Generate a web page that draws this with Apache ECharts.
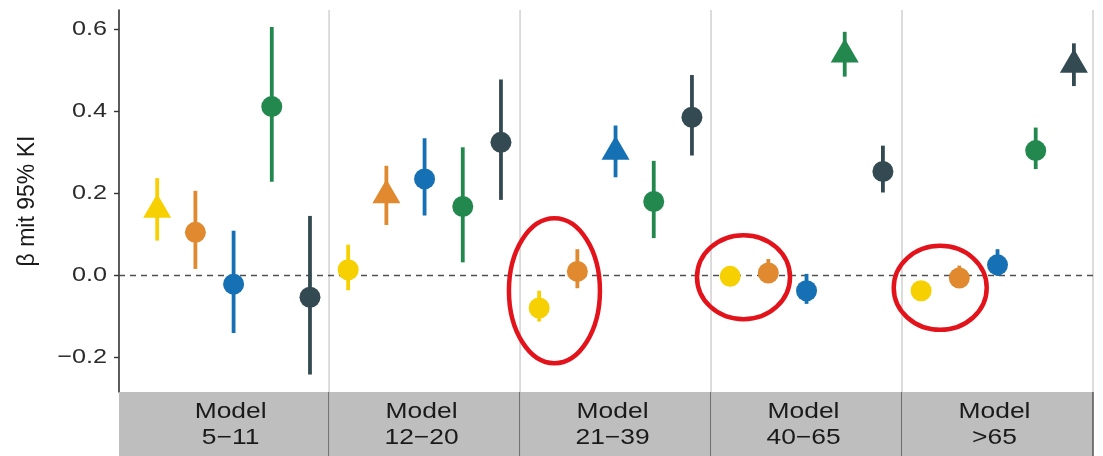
<!DOCTYPE html>
<html>
<head>
<meta charset="utf-8">
<script src="https://cdn.jsdelivr.net/npm/echarts@6/dist/echarts.min.js"></script>
<style>
  html, body { margin: 0; padding: 0; background: #ffffff; }
  #chart { width: 1103px; height: 456px; }
</style>
</head>
<body>
<div id="chart"></div>
<script>
// Facets (models by age group)
const panels = ['5−11', '12−20', '21−39', '40−65', '>65'];
// Predictor groups, one coloured series each
const groupNames = ['5−11', '12−20', '21−39', '40−65', '>65'];
const groupColors = ['#F6D000', '#E0892E', '#1570B4', '#22884D', '#344A52'];

// Estimates and 95% interval bounds, one value per facet
const est1 = [0.160, 0.014, -0.079, -0.002, -0.037];
const lo1  = [0.085, -0.036, -0.112, -0.012, -0.048];
const hi1  = [0.237, 0.075, -0.037, 0.008, -0.026];

const est2 = [0.105, 0.195, 0.010, 0.006, -0.006];
const lo2  = [0.016, 0.123, -0.031, -0.015, -0.030];
const hi2  = [0.206, 0.267, 0.064, 0.040, 0.024];

const est3 = [-0.021, 0.235, 0.301, -0.037, 0.026];
const lo3  = [-0.140, 0.146, 0.239, -0.069, -0.001];
const hi3  = [0.109, 0.334, 0.365, 0.004, 0.064];

const est4 = [0.411, 0.168, 0.180, 0.538, 0.304];
const lo4  = [0.228, 0.032, 0.091, 0.484, 0.259];
const hi4  = [0.605, 0.312, 0.279, 0.593, 0.360];

const est5 = [-0.053, 0.324, 0.385, 0.253, 0.513];
const lo5  = [-0.241, 0.184, 0.292, 0.202, 0.461];
const hi5  = [0.145, 0.477, 0.488, 0.316, 0.565];

// Facet in which each group is drawn with a triangle
const trianglePanel = [0, 1, 2, 3, 4];

// Y axis ticks
const yTicks = [-0.2, 0.0, 0.2, 0.4, 0.6];

// Highlighted pairs: ring centres in axis units (x slot, estimate)
const ringX = [10.9, 15.85, 21.0];
const ringY = [-0.037, -0.004, -0.030];

const estimates = [est1, est2, est3, est4, est5];
const lowers = [lo1, lo2, lo3, lo4, lo5];
const uppers = [hi1, hi2, hi3, hi4, hi5];

// Layout of the x scale: each facet is 5 slots wide, the first one has extra room at the left
const SLOT = 5;
const X_MIN = -0.5;
const xPos = (panel, group) => panel * SLOT + 0.5 + group;
const Y_MIN = -0.2835, Y_MAX = 0.6461;
const STRIP_H = 70;
const FONT = '"Liberation Sans", Arial, Helvetica, sans-serif';
const TEXT_STRETCH = 1.2;

const fmt = v => {
  const s = Math.abs(v).toFixed(1);
  return v < -1e-9 ? '−' + s : s;
};

const series = [];

// Facet frame: strip boxes with labels, separators between facets
series.push({
  type: 'custom',
  name: 'facets',
  silent: true,
  clip: false,
  z: 1,
  data: panels.map((p, k) => [k]),
  renderItem: function (params, api) {
    const k = api.value(0);
    const x0 = k === 0 ? X_MIN : k * SLOT;
    const x1 = (k + 1) * SLOT;
    const pLeft = api.coord([x0, Y_MIN]);
    const pRight = api.coord([x1, Y_MIN]);
    const pTop = api.coord([x1, Y_MAX]);
    const pMid = api.coord([k * SLOT + 2.5, Y_MIN]);
    const tx = pMid[0] - 3, ty = pMid[1] + 33;
    return {
      type: 'group',
      children: [
        {
          type: 'rect',
          shape: { x: pLeft[0], y: pLeft[1], width: pRight[0] - pLeft[0], height: STRIP_H },
          style: { fill: '#BEBEBE' }
        },
        {
          type: 'line',
          shape: { x1: pRight[0], y1: pTop[1], x2: pRight[0], y2: pRight[1] },
          style: { stroke: '#C9C9C9', lineWidth: 1.3 }
        },
        {
          type: 'line',
          shape: { x1: pRight[0], y1: pRight[1], x2: pRight[0], y2: pRight[1] + STRIP_H },
          style: { stroke: '#4A4A4A', lineWidth: 1.4 }
        },
        {
          type: 'text',
          x: tx,
          y: ty,
          scaleX: TEXT_STRETCH,
          style: {
            text: 'Model\n' + panels[k],
            x: 0,
            y: 0,
            align: 'center',
            verticalAlign: 'middle',
            font: '22px ' + FONT,
            lineHeight: 26,
            fill: '#1A1A1A'
          }
        }
      ]
    };
  }
});

// Y tick labels, placed through the value axis
series.push({
  type: 'custom',
  name: 'yLabels',
  silent: true,
  clip: false,
  z: 5,
  data: yTicks.map(v => [v]),
  renderItem: function (params, api) {
    const v = api.value(0);
    const p = api.coord([X_MIN, v]);
    return {
      type: 'text',
      x: p[0] - 12,
      y: p[1],
      scaleX: TEXT_STRETCH,
      style: {
        text: fmt(v),
        x: 0,
        y: 0,
        align: 'right',
        verticalAlign: 'middle',
        font: '21px ' + FONT,
        fill: '#2B2B2B'
      }
    };
  }
});

// Interval bars and point estimates for each group
groupNames.forEach((name, g) => {
  const barData = panels.map((p, k) => [xPos(k, g), lowers[g][k], uppers[g][k]]);
  series.push({
    type: 'custom',
    name: name,
    silent: true,
    z: 3,
    data: barData,
    renderItem: function (params, api) {
      const a = api.coord([api.value(0), api.value(1)]);
      const b = api.coord([api.value(0), api.value(2)]);
      return {
        type: 'line',
        shape: { x1: a[0], y1: a[1], x2: b[0], y2: b[1] },
        style: { stroke: groupColors[g], lineWidth: 3.8 }
      };
    }
  });

  const pointData = panels.map((p, k) => {
    const tri = trianglePanel[g] === k;
    return {
      value: [xPos(k, g), estimates[g][k]],
      symbol: tri ? 'triangle' : 'circle',
      symbolSize: tri ? [28, 24] : 21,
      symbolOffset: tri ? [0, -4] : [0, 0]
    };
  });
  const s = {
    type: 'scatter',
    name: name,
    z: 4,
    silent: true,
    itemStyle: { color: groupColors[g], opacity: 1 },
    data: pointData
  };
  if (g === 0) {
    s.markLine = {
      silent: true,
      symbol: ['none', 'none'],
      label: { show: false },
      lineStyle: { type: [6, 5], color: '#505050', width: 1.4 },
      z: 2,
      data: [{ yAxis: 0 }]
    };
  }
  series.push(s);
});

// Red rings around the highlighted pairs
series.push({
  type: 'custom',
  name: 'rings',
  silent: true,
  clip: false,
  z: 6,
  data: ringX.map((x, i) => [x, ringY[i], i === 0 ? 1 : 0]),
  renderItem: function (params, api) {
    const c = api.coord([api.value(0), api.value(1)]);
    const tall = api.value(2) === 1;
    return {
      type: 'ellipse',
      shape: { cx: c[0], cy: c[1], rx: tall ? 45.5 : 46.5, ry: tall ? 72.5 : 42 },
      style: { fill: 'none', stroke: '#E3131B', lineWidth: 4.5 }
    };
  }
});

const chart = echarts.init(document.getElementById('chart'), null, { renderer: 'canvas' });
chart.setOption({
  animation: false,
  backgroundColor: '#ffffff',
  grid: { left: 119, right: 10, top: 10, bottom: 64, containLabel: false },
  xAxis: {
    type: 'value',
    min: X_MIN,
    max: SLOT * panels.length,
    show: false
  },
  yAxis: {
    type: 'value',
    min: Y_MIN,
    max: Y_MAX,
    name: 'β mit 95% KI',
    nameLocation: 'middle',
    nameRotate: 90,
    nameGap: 80,
    nameTextStyle: { fontFamily: FONT, fontSize: 23, color: '#1A1A1A' },
    splitLine: { show: false },
    axisLine: { show: true, onZero: false, lineStyle: { color: '#333333', width: 1.6 } },
    axisTick: { show: true, length: 5, lineStyle: { color: '#333333', width: 1.4 }, customValues: yTicks },
    axisLabel: { show: false }
  },
  series: series
});
</script>
</body>
</html>
